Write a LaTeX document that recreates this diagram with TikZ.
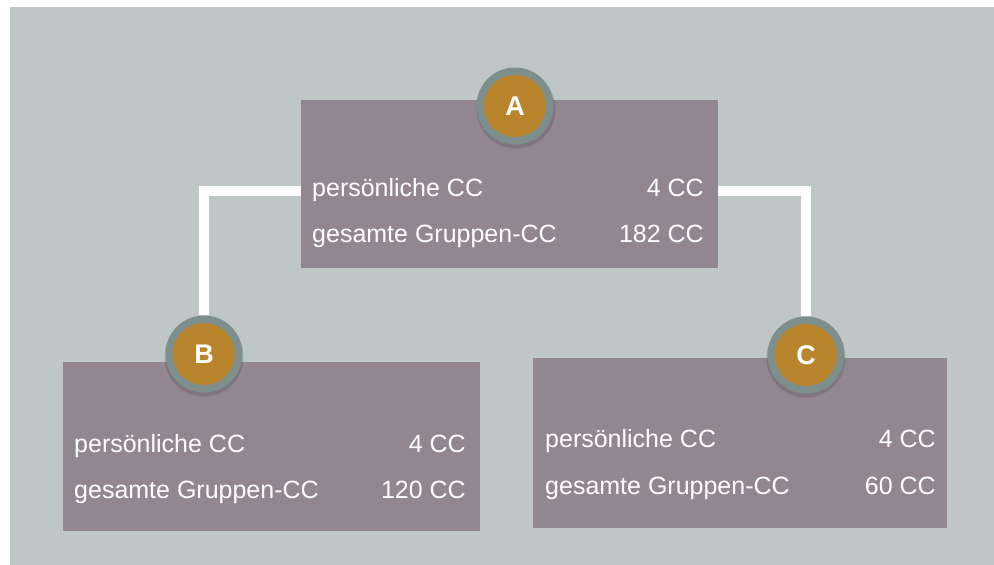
\documentclass[tikz,border=0pt]{standalone}
\usepackage{fontspec}
\setmainfont{Liberation Sans}
\definecolor{bgc}{HTML}{BEC7C5}
\definecolor{boxc}{HTML}{928690}
\definecolor{ringc}{HTML}{7C8F8D}
\definecolor{dotc}{HTML}{B8842C}
\tikzset{
  box/.style={fill=boxc, draw=none, inner sep=0pt, anchor=north west},
  ring/.style={circle, fill=ringc, draw=none, minimum size=77pt, inner sep=0pt},
  dot/.style={circle, fill=dotc, draw=none, minimum size=62pt, inner sep=0pt,
    text=white, font=\fontsize{27}{27}\selectfont\bfseries},
  conn/.style={white, line width=10pt},
  lbl/.style={text=white, font=\fontsize{25}{25}\selectfont, inner sep=0pt},
}
\begin{document}
\begin{tikzpicture}[x=1pt,y=-1pt]
\useasboundingbox (0,0) rectangle (994,565);
\fill[bgc] (10,7) rectangle (994,565);
% boxes
\node[box, minimum width=417pt, minimum height=168pt] (Abox) at (301,100) {};
\node[box, minimum width=417pt, minimum height=169pt] (Bbox) at (63,362) {};
\node[box, minimum width=414pt, minimum height=170pt] (Cbox) at (533,358) {};
% circle shadows
\fill[black, opacity=0.12] (516,109) circle (39.5pt);
\fill[black, opacity=0.12] (204,357) circle (39.5pt);
\fill[black, opacity=0.12] (806,358) circle (39.5pt);
% circles
\node[ring] (rA) at (515,106) {};
\node[dot] (cA) at (515,106) {A};
\node[ring] (rB) at (204,354) {};
\node[dot] (cB) at (204,354) {B};
\node[ring] (rC) at (806,355) {};
\node[dot] (cC) at (806,355) {C};
% connectors
\draw[conn] ([yshift=-7pt]Abox.west) -| (rB.north);
\draw[conn] ([yshift=-7pt]Abox.east) -| (rC.north);
% texts A
\node[lbl, anchor=base west] (a1) at (312,196) {persönliche CC};
\node[lbl, anchor=base east] (a2) at (704,196) {4 CC};
\node[lbl, anchor=base west] (a3) at (312,242) {gesamte Gruppen-CC};
\node[lbl, anchor=base east] (a4) at (704,242) {182 CC};
% texts B
\node[lbl, anchor=base west] (b1) at (74,452) {persönliche CC};
\node[lbl, anchor=base east] (b2) at (466,452) {4 CC};
\node[lbl, anchor=base west] (b3) at (74,498) {gesamte Gruppen-CC};
\node[lbl, anchor=base east] (b4) at (466,498) {120 CC};
% texts C
\node[lbl, anchor=base west] (c1) at (545,447) {persönliche CC};
\node[lbl, anchor=base east] (c2) at (936,447) {4 CC};
\node[lbl, anchor=base west] (c3) at (545,494) {gesamte Gruppen-CC};
\node[lbl, anchor=base east] (c4) at (936,494) {60 CC};
\end{tikzpicture}
\end{document}
